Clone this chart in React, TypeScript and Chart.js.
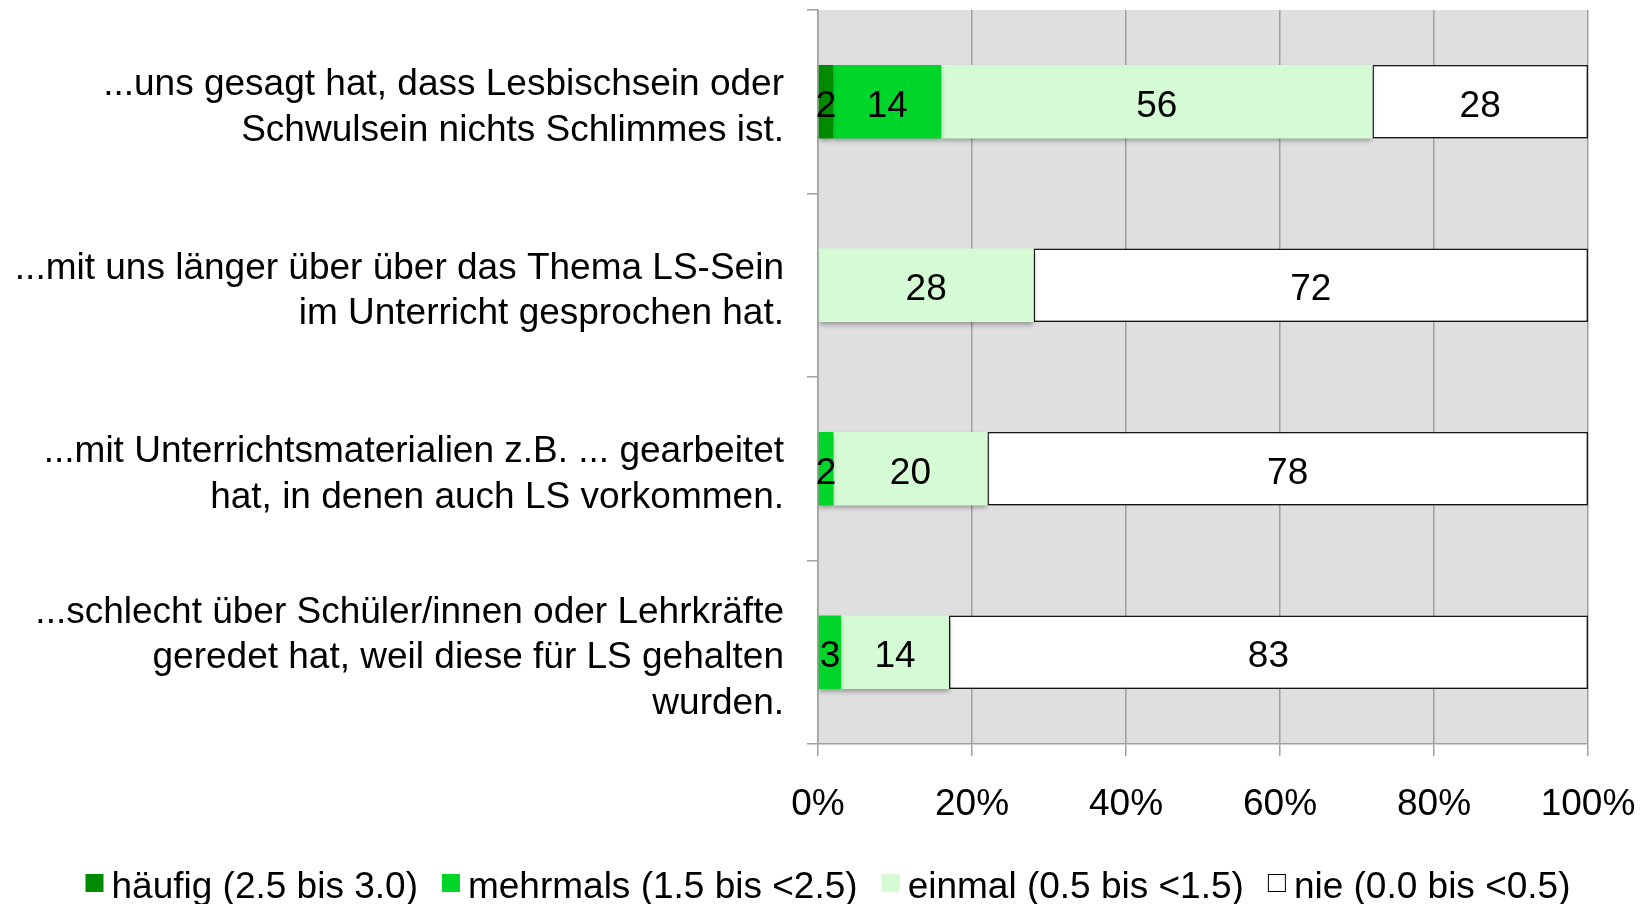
import React, { useEffect, useRef } from "react";
import { Chart, registerables } from "chart.js";

Chart.register(...registerables);

const categories: string[][] = [
  ["...uns gesagt hat, dass Lesbischsein oder", "Schwulsein nichts Schlimmes ist."],
  ["...mit uns länger über über das Thema LS-Sein", "im Unterricht gesprochen hat."],
  ["...mit Unterrichtsmaterialien z.B. ... gearbeitet", "hat, in denen auch LS vorkommen."],
  ["...schlecht über Schüler/innen oder Lehrkräfte", "geredet hat, weil diese für LS gehalten", "wurden."],
];
const seriesNames = ["häufig (2.5 bis 3.0)", "mehrmals (1.5 bis <2.5)", "einmal (0.5 bis <1.5)", "nie (0.0 bis <0.5)"];
const haeufig = [2, 0, 0, 0];
const mehrmals = [14, 0, 2, 3];
const einmal = [56, 28, 20, 14];
const nie = [28, 72, 78, 83];
const xTickValues = [0, 20, 40, 60, 80, 100];
const seriesColors = ["#008A00", "#00D62A", "#D4FBD4", "#FFFFFF"];

const FONT = "'Liberation Sans', Arial, sans-serif";
const FS = 37;

const bgPlugin = {
  id: "bgPlugin",
  beforeDraw(chart: any) {
    const { ctx, chartArea, width, height } = chart;
    ctx.save();
    ctx.fillStyle = "#FFFFFF";
    ctx.fillRect(0, 0, width, height);
    ctx.fillStyle = "#DFDFDF";
    ctx.fillRect(chartArea.left, chartArea.top, chartArea.right - chartArea.left, chartArea.bottom - chartArea.top);
    ctx.restore();
  },
};

const shadowLabelPlugin = {
  id: "shadowLabelPlugin",
  beforeDatasetsDraw(chart: any) {
    const ctx = chart.ctx;
    ctx.save();
    ctx.shadowColor = "rgba(0,0,0,0.35)";
    ctx.shadowBlur = 5;
    ctx.shadowOffsetX = 0;
    ctx.shadowOffsetY = 3;
  },
  afterDatasetsDraw(chart: any) {
    const ctx = chart.ctx;
    ctx.restore();
    ctx.save();
    ctx.font = `${FS}px ${FONT}`;
    ctx.fillStyle = "#000000";
    ctx.textAlign = "center";
    ctx.textBaseline = "middle";
    chart.data.datasets.forEach((ds: any, di: number) => {
      const meta = chart.getDatasetMeta(di);
      meta.data.forEach((el: any, i: number) => {
        const v = ds.data[i];
        if (!v) return;
        const cx = (el.x + el.base) / 2;
        ctx.fillText(String(v), cx, el.y + 5);
      });
    });
    ctx.restore();
  },
};

const legendPlugin = {
  id: "customLegend",
  afterDraw(chart: any) {
    const ctx = chart.ctx;
    ctx.save();
    ctx.font = `${FS}px ${FONT}`;
    const box = 18;
    const gapBoxText = 8;
    const gapItems = 24;
    const items = chart.data.datasets.map((ds: any) => ({
      label: ds.label as string,
      color: ds.backgroundColor as string,
      border: ds.borderWidth > 0,
      w: ctx.measureText(ds.label).width,
    }));
    let total = 0;
    items.forEach((it: any, i: number) => {
      total += box + gapBoxText + it.w + (i < items.length - 1 ? gapItems : 0);
    });
    const centerX = 828;
    const cy = 888;
    let x = centerX - total / 2;
    items.forEach((it: any) => {
      ctx.fillStyle = it.color;
      ctx.fillRect(x, cy - 14, box, box);
      if (it.border) {
        ctx.strokeStyle = "#000000";
        ctx.lineWidth = 1;
        ctx.strokeRect(x + 0.5, cy - 13.5, box - 1, box - 1);
      }
      ctx.fillStyle = "#000000";
      ctx.textAlign = "left";
      ctx.textBaseline = "middle";
      ctx.fillText(it.label, x + box + gapBoxText, cy);
      x += box + gapBoxText + it.w + gapItems;
    });
    ctx.restore();
  },
};

export default function App() {
  const canvasRef = useRef<HTMLCanvasElement | null>(null);

  useEffect(() => {
    document.body.style.margin = "0";
    document.body.style.overflow = "hidden";
    const canvas = canvasRef.current;
    if (!canvas) return;
    const seriesData = [haeufig, mehrmals, einmal, nie];
    const chart = new Chart(canvas, {
      type: "bar",
      data: {
        labels: categories,
        datasets: seriesData.map((d, i) => ({
          label: seriesNames[i],
          data: d,
          backgroundColor: seriesColors[i],
          borderColor: i === 3 ? "#1A1A1A" : seriesColors[i],
          borderWidth: i === 3 ? 1.5 : 0,
          borderSkipped: false,
          barPercentage: 0.4,
          categoryPercentage: 1.0,
        })),
      },
      options: {
        indexAxis: "y",
        animation: false,
        responsive: true,
        maintainAspectRatio: false,
        events: [],
        layout: { padding: { top: 10, right: 55, bottom: 0, left: 0 } },
        plugins: {
          legend: { display: false },
          tooltip: { enabled: false },
        },
        scales: {
          x: {
            type: "linear",
            stacked: true,
            min: 0,
            max: 100,
            afterFit(scale: any) {
              scale.height = 160;
              scale.paddingLeft = 0;
              scale.paddingRight = 0;
              scale.paddingTop = 0;
              scale.paddingBottom = 0;
            },
            afterBuildTicks(scale: any) {
              scale.ticks = xTickValues.map((v) => ({ value: v }));
            },
            ticks: {
              callback: (v: any) => `${v}%`,
              font: { family: FONT, size: FS },
              color: "#000000",
              padding: 27,
              maxRotation: 0,
            },
            grid: {
              color: "#A0A0A0",
              lineWidth: 1.5,
              tickLength: 12,
              drawTicks: true,
            },
            border: { color: "#A0A0A0", width: 1.5 },
          },
          y: {
            type: "category",
            stacked: true,
            afterFit(scale: any) {
              scale.width = 818;
              scale.paddingLeft = 0;
              scale.paddingRight = 0;
              scale.paddingTop = 0;
              scale.paddingBottom = 0;
            },
            afterUpdate(scale: any) {
              if (scale.__shifted) return;
              scale.__shifted = true;
              const orig = scale._computeLabelItems.bind(scale);
              scale._computeLabelItems = (ca: any) =>
                orig(ca).map((it: any) => ({ ...it, textOffset: it.textOffset + 6 }));
            },
            ticks: {
              font: { family: FONT, size: FS, lineHeight: 1.22 },
              color: "#000000",
              padding: 23,
              crossAlign: "near",
            },
            grid: {
              display: true,
              drawOnChartArea: false,
              color: "#A0A0A0",
              lineWidth: 1.5,
              tickLength: 11,
              offset: true,
            },
            border: { color: "#A0A0A0", width: 1.5 },
          },
        },
      },
      plugins: [bgPlugin, shadowLabelPlugin, legendPlugin],
    } as any);
    return () => chart.destroy();
  }, []);

  return (
    <div style={{ position: "relative", width: "1643px", height: "904px" }}>
      <canvas ref={canvasRef} />
    </div>
  );
}
